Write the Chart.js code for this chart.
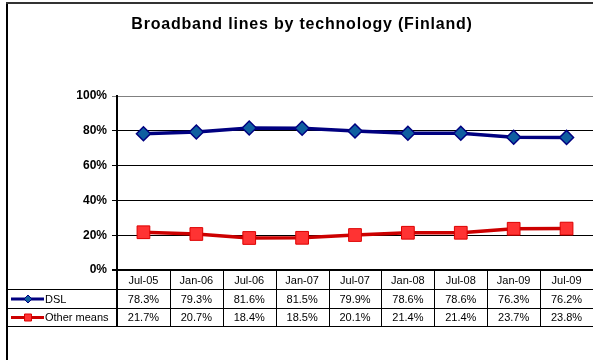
<!DOCTYPE html>
<html>
<head>
<meta charset="utf-8">
<script src="https://cdn.jsdelivr.net/npm/chart.js@4"></script>
<style>
  html, body { margin: 0; padding: 0; background: #fff; }
  #wrap { width: 593px; height: 360px; position: relative; }
</style>
</head>
<body>
<div id="wrap"><canvas id="grafico"></canvas></div>
<script>
// Datos
const titulo = "Broadband lines by technology (Finland)";
const periodos = ['Jul-05', 'Jan-06', 'Jul-06', 'Jan-07', 'Jul-07', 'Jan-08', 'Jul-08', 'Jan-09', 'Jul-09'];
const dsl = [78.3, 79.3, 81.6, 81.5, 79.9, 78.6, 78.6, 76.3, 76.2];
const otros = [21.7, 20.7, 18.4, 18.5, 20.1, 21.4, 21.4, 23.7, 23.8];
const nombres = ['DSL', 'Other means'];
const ticksY = [0, 20, 40, 60, 80, 100];

const FUENTE = 'Arial, "Liberation Sans", sans-serif';

// Tabla de datos bajo el eje X + marco + título
const tablaPlugin = {
  id: 'tablaDatos',
  afterDraw(chart) {
    const ctx = chart.ctx;
    const a = chart.chartArea;
    const xs = chart.scales.x;
    const ancho = (a.right - a.left) / periodos.length;
    const filas = [a.bottom, a.bottom + 19, a.bottom + 38, a.bottom + 56];

    ctx.save();
    // marco exterior
    ctx.strokeStyle = '#000';
    ctx.lineWidth = 2;
    ctx.beginPath();
    ctx.moveTo(7, 360); ctx.lineTo(7, 3); ctx.stroke();
    ctx.strokeStyle = '#333';
    ctx.beginPath();
    ctx.moveTo(6, 3); ctx.lineTo(593, 3); ctx.stroke();

    // título
    ctx.fillStyle = '#000';
    ctx.font = 'bold 16px ' + FUENTE;
    ctx.letterSpacing = '0.8px';
    ctx.textAlign = 'center';
    ctx.textBaseline = 'alphabetic';
    ctx.fillText(titulo, 302, 29);
    ctx.letterSpacing = '0px';

    // eje X
    ctx.strokeStyle = '#000';
    ctx.lineWidth = 2;
    ctx.beginPath();
    ctx.moveTo(a.left - 5, a.bottom); ctx.lineTo(a.right, a.bottom); ctx.stroke();

    // líneas de la tabla
    ctx.lineWidth = 1;
    ctx.beginPath();
    for (let i = 1; i < 4; i++) {
      const y = Math.round(filas[i]) + 0.5;
      ctx.moveTo(7, y); ctx.lineTo(a.right, y);
    }
    for (let i = 1; i <= periodos.length; i++) {
      const x = Math.round(a.left + i * ancho) + 0.5;
      ctx.moveTo(x, filas[0]); ctx.lineTo(x, filas[3]);
    }
    ctx.stroke();
    ctx.lineWidth = 2;
    ctx.beginPath();
    ctx.moveTo(a.left, filas[0]); ctx.lineTo(a.left, filas[3]);
    ctx.stroke();

    // textos
    ctx.font = '11px ' + FUENTE;
    ctx.textAlign = 'center';
    ctx.textBaseline = 'middle';
    periodos.forEach((p, i) => {
      const cx = xs.getPixelForValue(i);
      ctx.fillText(p, cx, (filas[0] + filas[1]) / 2 + 1);
      ctx.fillText(dsl[i].toFixed(1) + '%', cx, (filas[1] + filas[2]) / 2 + 1);
      ctx.fillText(otros[i].toFixed(1) + '%', cx, (filas[2] + filas[3]) / 2 + 1);
    });

    // claves de leyenda
    chart.data.datasets.forEach((ds, k) => {
      const cy = (filas[k + 1] + filas[k + 2]) / 2 + 0.5;
      ctx.strokeStyle = ds.borderColor;
      ctx.lineWidth = 3;
      ctx.beginPath();
      ctx.moveTo(11, cy); ctx.lineTo(44, cy); ctx.stroke();
      ctx.fillStyle = ds.pointBackgroundColor;
      ctx.strokeStyle = ds.pointBorderColor;
      ctx.lineWidth = 1;
      ctx.beginPath();
      if (k === 0) {
        ctx.moveTo(28, cy - 4); ctx.lineTo(32, cy); ctx.lineTo(28, cy + 4); ctx.lineTo(24, cy);
      } else {
        ctx.rect(24.5, cy - 3.5, 7, 7);
      }
      ctx.closePath();
      ctx.fill(); ctx.stroke();
      ctx.fillStyle = '#000';
      ctx.textAlign = 'left';
      ctx.fillText(nombres[k], 45, cy + 0.5);
    });
    ctx.restore();
  }
};

new Chart(document.getElementById('grafico'), {
  type: 'line',
  data: {
    labels: periodos,
    datasets: [{
      label: nombres[0],
      data: dsl,
      borderColor: '#000080',
      borderWidth: 3.5,
      pointStyle: 'rectRot',
      pointRadius: 7,
      pointBackgroundColor: '#0F5FA0',
      pointBorderColor: '#000080',
      pointBorderWidth: 1.5,
      tension: 0
    }, {
      label: nombres[1],
      data: otros,
      borderColor: '#CC0000',
      borderWidth: 3.5,
      pointStyle: 'rect',
      pointRadius: 9,
      pointBackgroundColor: '#FF3333',
      pointBorderColor: '#DD0000',
      pointBorderWidth: 1,
      tension: 0
    }]
  },
  options: {
    responsive: true,
    maintainAspectRatio: false,
    animation: false,
    clip: false,
    layout: { autoPadding: false, padding: { top: 96, left: 0, right: 0, bottom: 90 } },
    plugins: {
      legend: { display: false },
      title: { display: false },
      tooltip: { enabled: false }
    },
    scales: {
      x: {
        display: false,
        offset: true
      },
      y: {
        min: 0,
        max: 100,
        afterBuildTicks: (s) => { s.ticks = ticksY.map(v => ({ value: v })); },
        afterFit: (s) => { s.width = 117; },
        border: { display: true, color: '#000', width: 2 },
        grid: {
          color: (c) => c.tick && c.tick.value === 100 ? '#808080' : '#000',
          lineWidth: 1,
          tickLength: 5
        },
        ticks: {
          padding: 5,
          color: '#000',
          font: { family: FUENTE, size: 12, weight: 'bold' },
          callback: (v) => v + '%'
        }
      }
    }
  },
  plugins: [tablaPlugin]
});
</script>
</body>
</html>
